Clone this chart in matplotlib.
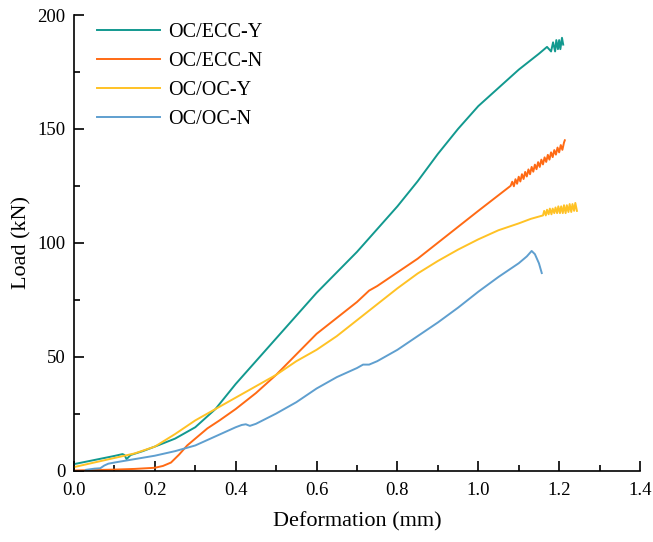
import matplotlib.pyplot as plt
from matplotlib.ticker import MultipleLocator

# OC/ECC-Y
ecc_y_x = [0, 0.05, 0.10, 0.12, 0.125, 0.13, 0.14, 0.17, 0.2, 0.25, 0.3, 0.35, 0.4,
           0.45, 0.5, 0.55, 0.6, 0.65, 0.7, 0.75, 0.8, 0.85, 0.9, 0.95, 0.98, 1.0,
           1.05, 1.1, 1.15, 1.17, 1.18, 1.185, 1.19, 1.193, 1.197, 1.20, 1.203, 1.207, 1.21]
ecc_y_load = [2.8, 4.6, 6.4, 7.2, 6.8, 5.0, 6.8, 8.5, 10.5, 14, 19, 27, 38,
              48, 58, 68, 78, 87, 96, 106, 116, 127, 139, 150, 156, 160,
              168, 176, 183, 186, 184, 188, 184, 189, 185, 189, 185, 190, 187]

# OC/ECC-N
ecc_n_x = [0, 0.05, 0.1, 0.15, 0.2, 0.22, 0.24, 0.26, 0.28, 0.3, 0.33, 0.36, 0.4,
           0.45, 0.5, 0.55, 0.6, 0.65, 0.7, 0.73, 0.75, 0.8, 0.85, 0.9, 0.95, 1.0,
           1.04, 1.08, 1.084, 1.088, 1.092, 1.096, 1.100, 1.104, 1.108, 1.112, 1.116,
           1.120, 1.124, 1.128, 1.132, 1.136, 1.140, 1.144, 1.148, 1.152, 1.156,
           1.160, 1.164, 1.168, 1.172, 1.176, 1.180, 1.184, 1.188, 1.192, 1.196,
           1.200, 1.204, 1.208, 1.212, 1.214]
ecc_n_load = [0, 0.2, 0.4, 0.7, 1.2, 2, 3.5, 7, 11, 14, 18.5, 22, 27,
              34, 42, 51, 60, 67, 74, 79, 81, 87, 93, 100, 107, 114,
              119.5, 125, 126.8, 124.8, 127.9, 125.9, 129.0, 126.9, 130.1, 128.0, 131.1,
              129.1, 132.2, 130.1, 133.3, 131.2, 134.3, 132.3, 135.4, 133.3, 136.5,
              134.4, 137.5, 135.5, 138.6, 136.5, 139.7, 137.6, 140.7, 138.7, 141.8,
              139.7, 142.9, 140.8, 144.0, 145]

# OC/OC-Y
oc_y_x = [0, 0.05, 0.1, 0.15, 0.2, 0.25, 0.3, 0.33, 0.36, 0.4, 0.45, 0.5, 0.55,
          0.6, 0.65, 0.7, 0.75, 0.8, 0.85, 0.9, 0.95, 1.0, 1.05, 1.1, 1.13, 1.16,
          1.163, 1.167, 1.170, 1.174, 1.177, 1.181, 1.184, 1.188, 1.191, 1.195,
          1.198, 1.202, 1.205, 1.209, 1.212, 1.216, 1.219, 1.223, 1.226, 1.230,
          1.233, 1.237, 1.240, 1.244]
oc_y_load = [1.5, 3.5, 5.5, 7.5, 10.5, 16, 22, 25, 28, 32, 37, 42, 48,
             53, 59, 66, 73, 80, 86.5, 92, 97, 101.5, 105.5, 108.5, 110.5, 112,
             114, 112, 114.5, 112.5, 115, 112.5, 115, 113, 115.5, 113,
             116, 113, 116, 113, 116.5, 113, 116.5, 113.5, 117, 113.5,
             117, 114, 117.5, 114]

# OC/OC-N
oc_n_x = [0.03, 0.05, 0.065, 0.075, 0.085, 0.1, 0.15, 0.2, 0.25, 0.3, 0.35, 0.4,
          0.415, 0.425, 0.435, 0.45, 0.5, 0.55, 0.6, 0.65, 0.7, 0.715, 0.73, 0.75,
          0.8, 0.85, 0.9, 0.95, 1.0, 1.05, 1.1, 1.12, 1.132, 1.14, 1.15, 1.157]
oc_n_load = [0.3, 0.8, 1.0, 2.2, 3.0, 3.5, 5, 6.5, 8.5, 11, 15, 19,
             20, 20.3, 19.6, 20.5, 25, 30, 36, 41, 45, 46.5, 46.5, 48,
             53, 59, 65, 71.5, 78.5, 85, 91, 94, 96.4, 95, 91, 86.7]

series = [
    ("OC/ECC-Y", ecc_y_x, ecc_y_load, "#12998f"),
    ("OC/ECC-N", ecc_n_x, ecc_n_load, "#ff6a14"),
    ("OC/OC-Y", oc_y_x, oc_y_load, "#ffc225"),
    ("OC/OC-N", oc_n_x, oc_n_load, "#5f9fcf"),
]

plt.rcParams["font.family"] = ["Liberation Serif", "DejaVu Serif"]

fig = plt.figure(figsize=(6.53, 5.42), dpi=100)
ax = fig.add_axes([0.1133, 0.1319, 0.8668, 0.8404])

for name, xs, ys, color in series:
    ax.plot(xs, ys, color=color, lw=1.4, label=name)

ax.set_xlim(0, 1.4)
ax.set_ylim(0, 200)
ax.xaxis.set_major_locator(MultipleLocator(0.2))
ax.xaxis.set_minor_locator(MultipleLocator(0.1))
ax.yaxis.set_major_locator(MultipleLocator(50))
ax.yaxis.set_minor_locator(MultipleLocator(25))
ax.tick_params(which="both", direction="in", width=1.2, labelsize=13.5)
ax.tick_params(which="major", length=7, pad=8)
ax.tick_params(which="minor", length=4)
ax.tick_params(axis="y", which="major", pad=6)
ax.xaxis.set_major_formatter(plt.FormatStrFormatter("%.1f"))

for side in ["top", "right"]:
    ax.spines[side].set_visible(False)
for side in ["left", "bottom"]:
    ax.spines[side].set_linewidth(1.2)

ax.set_xlabel("Deformation (mm)", fontsize=16, labelpad=10)
ax.set_ylabel("Load (kN)", fontsize=16, labelpad=4)

ax.legend(loc="upper left", frameon=False, fontsize=14.5, handlelength=3.1,
          handletextpad=0.4, labelspacing=0.5, borderaxespad=0.2,
          bbox_to_anchor=(0.02, 1.01))

fig.savefig("out.png", dpi=100)
